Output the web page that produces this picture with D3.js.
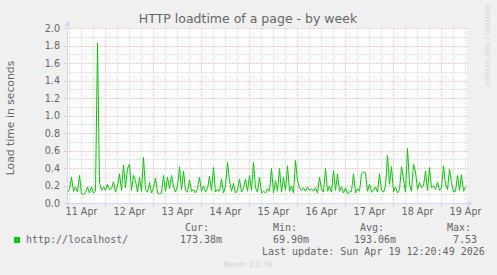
<!DOCTYPE html>
<html>
<head>
<meta charset="utf-8">
<script src="https://d3js.org/d3.v7.min.js"></script>
<style>
  body { margin: 0; background: #f0f0f0; }
  svg { display: block; }
</style>
</head>
<body>
<script>

// values (one point per hour)
var first_point = new Date(2026, 3, 11, 5, 0, 0);
var load_times = [
  0.13, 0.16, 0.30, 0.14, 0.19, 0.13, 0.32, 0.11, 0.10, 0.13,
  0.19, 0.12, 0.19, 0.12, 0.14, 1.83, 0.24, 0.15, 0.19, 0.15,
  0.22, 0.16, 0.17, 0.25, 0.13, 0.20, 0.34, 0.15, 0.44, 0.18,
  0.40, 0.45, 0.15, 0.32, 0.26, 0.13, 0.30, 0.14, 0.53, 0.16,
  0.13, 0.24, 0.12, 0.18, 0.29, 0.12, 0.11, 0.12, 0.32, 0.14,
  0.30, 0.17, 0.32, 0.20, 0.13, 0.20, 0.42, 0.16, 0.37, 0.15,
  0.13, 0.27, 0.14, 0.16, 0.12, 0.17, 0.30, 0.14, 0.20, 0.13,
  0.17, 0.31, 0.15, 0.41, 0.13, 0.16, 0.14, 0.28, 0.12, 0.20,
  0.47, 0.26, 0.14, 0.23, 0.12, 0.15, 0.28, 0.13, 0.18, 0.28,
  0.14, 0.32, 0.15, 0.47, 0.18, 0.13, 0.30, 0.12, 0.14, 0.12,
  0.17, 0.14, 0.40, 0.12, 0.26, 0.14, 0.40, 0.13, 0.30, 0.15,
  0.43, 0.14, 0.20, 0.12, 0.49, 0.26, 0.18, 0.15, 0.18, 0.14,
  0.19, 0.15, 0.17, 0.14, 0.18, 0.12, 0.30, 0.16, 0.13, 0.40,
  0.14, 0.20, 0.13, 0.38, 0.15, 0.34, 0.14, 0.19, 0.12, 0.18,
  0.11, 0.13, 0.14, 0.34, 0.12, 0.17, 0.14, 0.34, 0.36, 0.35,
  0.14, 0.22, 0.13, 0.15, 0.19, 0.13, 0.34, 0.15, 0.13, 0.20,
  0.55, 0.22, 0.42, 0.13, 0.19, 0.12, 0.16, 0.42, 0.28, 0.13,
  0.63, 0.22, 0.14, 0.45, 0.36, 0.16, 0.24, 0.18, 0.20, 0.37,
  0.15, 0.41, 0.18, 0.20, 0.16, 0.24, 0.15, 0.18, 0.43, 0.22,
  0.16, 0.39, 0.24, 0.13, 0.14, 0.32, 0.15, 0.33, 0.14, 0.19
];

// axis values
var y_major_ticks = [0, 0.2, 0.4, 0.6, 0.8, 1.0, 1.2, 1.4, 1.6, 1.8, 2.0];
var y_minor_ticks = [0.1, 0.3, 0.5, 0.7, 0.9, 1.1, 1.3, 1.5, 1.7, 1.9];

// legend texts
var series_name = "http://localhost/";
var legend_heads = ["Cur:", "Min:", "Avg:", "Max:"];
var legend_values = ["173.38m", "69.90m", "193.06m", "7.53"];
var last_update = "Last update: Sun Apr 19 12:20:49 2026";

function draw() {

    var width = 497;
    var height = 275;
    var plot = {left: 67, right: 467, top: 28, bottom: 203};

    // colours used by munin
    var font_colour = "#666666";
    var axis_colour = "#cfd6f8";
    var grid_colour = "#c4c4c4";
    var mgrid_colour = "#e09a9a";
    var line_colour = "#00cc00";

    // turn the values into time points
    var points = load_times.map(function(d, i) {
        return {time: d3.timeHour.offset(first_point, i), value: d};
    });

    // create SVG element
    var svg = d3.select("body")
                .append("svg")
                .attr("width", width)
                .attr("height", height)
                .style("background", "#f0f0f0");

    // scales
    var x_scale = d3.scaleTime()
        .domain([new Date(2026, 3, 11, 5, 0, 0), new Date(2026, 3, 19, 13, 0, 0)])
        .range([plot.left, plot.right]);

    var y_scale = d3.scaleLinear()
        .domain([0, 2])
        .range([plot.bottom, plot.top]);

    // white canvas
    svg.append("rect")
        .attr("x", plot.left)
        .attr("y", plot.top)
        .attr("width", plot.right - plot.left)
        .attr("height", plot.bottom - plot.top)
        .attr("fill", "#ffffff");

    var g = svg.append("g")
        .attr("transform", "translate(0.5,0.5)");

    // minor grid lines
    var minor_times = d3.timeHour.every(6).range(x_scale.domain()[0], x_scale.domain()[1])
        .filter(function(d) { return d.getHours() != 0; });
    var day_times = d3.timeDay.range(x_scale.domain()[0], x_scale.domain()[1]);

    g.append("g")
        .selectAll("line")
        .data(minor_times)
        .enter()
        .append("line")
        .attr("x1", function(d) { return Math.round(x_scale(d)); })
        .attr("x2", function(d) { return Math.round(x_scale(d)); })
        .attr("y1", plot.top)
        .attr("y2", plot.bottom)
        .attr("stroke", grid_colour)
        .attr("stroke-dasharray", "1,2");

    g.append("g")
        .selectAll("line")
        .data(y_minor_ticks)
        .enter()
        .append("line")
        .attr("x1", plot.left)
        .attr("x2", plot.right)
        .attr("y1", function(d) { return Math.round(y_scale(d)); })
        .attr("y2", function(d) { return Math.round(y_scale(d)); })
        .attr("stroke", grid_colour)
        .attr("stroke-dasharray", "1,2");

    // major grid lines
    g.append("g")
        .selectAll("line")
        .data(day_times)
        .enter()
        .append("line")
        .attr("x1", function(d) { return Math.round(x_scale(d)); })
        .attr("x2", function(d) { return Math.round(x_scale(d)); })
        .attr("y1", plot.top)
        .attr("y2", plot.bottom + 3)
        .attr("stroke", mgrid_colour)
        .attr("stroke-dasharray", "1,2");

    g.append("g")
        .selectAll("line")
        .data(y_major_ticks.slice(1))
        .enter()
        .append("line")
        .attr("x1", plot.left - 3)
        .attr("x2", plot.right)
        .attr("y1", function(d) { return Math.round(y_scale(d)); })
        .attr("y2", function(d) { return Math.round(y_scale(d)); })
        .attr("stroke", mgrid_colour)
        .attr("stroke-dasharray", "1,2");

    // draw the load time line
    var line = d3.line()
        .x(function(d) { return x_scale(d.time); })
        .y(function(d) { return y_scale(d.value); });

    g.append("path")
        .datum(points)
        .attr("d", line)
        .attr("fill", "none")
        .attr("stroke", line_colour)
        .attr("stroke-width", 1);

    // y axis labels
    var y_axis = d3.axisLeft(y_scale)
        .tickValues(y_major_ticks)
        .tickFormat(d3.format(".1f"))
        .tickSize(0)
        .tickPadding(7);

    var y_axis_g = svg.append("g")
        .attr("transform", "translate(" + plot.left + ",0)")
        .call(y_axis);
    y_axis_g.select(".domain").remove();
    y_axis_g.selectAll("text")
        .attr("fill", font_colour)
        .attr("font-family", "DejaVu Sans")
        .attr("font-size", "9.6px");

    // x axis labels, one per day at noon
    var noon_times = day_times.map(function(d) { return d3.timeHour.offset(d, -12); })
        .concat([d3.timeHour.offset(day_times[day_times.length - 1], 12)]);

    var x_axis = d3.axisBottom(x_scale)
        .tickValues(noon_times)
        .tickFormat(d3.timeFormat("%d %b"))
        .tickSize(0)
        .tickPadding(5);

    var x_axis_g = svg.append("g")
        .attr("transform", "translate(0," + plot.bottom + ")")
        .call(x_axis);
    x_axis_g.select(".domain").remove();
    x_axis_g.selectAll("text")
        .attr("fill", font_colour)
        .attr("font-family", "DejaVu Sans")
        .attr("font-size", "9.6px");

    // axis lines with arrows
    g.append("line")
        .attr("x1", plot.left)
        .attr("x2", plot.left)
        .attr("y1", plot.bottom + 3)
        .attr("y2", plot.top - 5)
        .attr("stroke", axis_colour);

    g.append("line")
        .attr("x1", plot.left - 3)
        .attr("x2", plot.right + 3)
        .attr("y1", plot.bottom)
        .attr("y2", plot.bottom)
        .attr("stroke", axis_colour);

    svg.append("path")
        .attr("d", "M" + (plot.left - 2.5) + "," + (plot.top - 2) + "L" + (plot.left + 0.5) + "," + (plot.top - 7) +
                   "L" + (plot.left + 3.5) + "," + (plot.top - 2) + "Z")
        .attr("fill", axis_colour);

    svg.append("path")
        .attr("d", "M" + (plot.right + 1) + "," + (plot.bottom - 2.5) + "L" + (plot.right + 6) + "," + (plot.bottom + 0.5) +
                   "L" + (plot.right + 1) + "," + (plot.bottom + 3.5) + "Z")
        .attr("fill", axis_colour);

    // title
    svg.append("text")
        .attr("x", 248)
        .attr("y", 23)
        .attr("text-anchor", "middle")
        .attr("font-family", "DejaVu Sans")
        .attr("font-size", "12.5px")
        .attr("fill", font_colour)
        .text("HTTP loadtime of a page - by week");

    // text for the y axis
    svg.append("text")
        .attr("transform", "translate(14," + 118 + ") rotate(-90)")
        .attr("text-anchor", "middle")
        .attr("font-family", "DejaVu Sans")
        .attr("font-size", "10.8px")
        .attr("fill", font_colour)
        .text("Load time in seconds");

    // rrdtool watermark on the right
    svg.append("text")
        .attr("transform", "translate(485,5) rotate(90)")
        .attr("font-family", "DejaVu Sans")
        .attr("font-size", "6.3px")
        .attr("fill", "#d0d0d0")
        .text("RRDTOOL / TOBI OETIKER");

    // legend
    var mono = "DejaVu Sans Mono";

    svg.append("rect")
        .attr("x", 14)
        .attr("y", 237)
        .attr("width", 6)
        .attr("height", 6)
        .attr("fill", line_colour);

    svg.append("text")
        .attr("x", 26)
        .attr("y", 243)
        .attr("font-family", mono)
        .attr("font-size", "10px")
        .attr("fill", font_colour)
        .text(series_name);

    var head_x = [185, 273, 360, 447];
    var value_x = [180, 273, 354, 453];

    svg.selectAll(".legend-head")
        .data(legend_heads)
        .enter()
        .append("text")
        .attr("class", "legend-head")
        .attr("x", function(d, i) { return head_x[i]; })
        .attr("y", 231)
        .attr("font-family", mono)
        .attr("font-size", "10px")
        .attr("fill", font_colour)
        .text(function(d) { return d; });

    svg.selectAll(".legend-value")
        .data(legend_values)
        .enter()
        .append("text")
        .attr("class", "legend-value")
        .attr("x", function(d, i) { return value_x[i]; })
        .attr("y", 243)
        .attr("font-family", mono)
        .attr("font-size", "10px")
        .attr("fill", font_colour)
        .text(function(d) { return d; });

    svg.append("text")
        .attr("x", 262)
        .attr("y", 255)
        .attr("font-family", mono)
        .attr("font-size", "10px")
        .attr("fill", font_colour)
        .text(last_update);

    // munin version
    svg.append("text")
        .attr("x", 248)
        .attr("y", 267)
        .attr("text-anchor", "middle")
        .attr("font-family", "DejaVu Sans")
        .attr("font-size", "7.5px")
        .attr("fill", "#d0d0d0")
        .text("Munin 2.0.76");
}

draw();

</script>
</body>
</html>
